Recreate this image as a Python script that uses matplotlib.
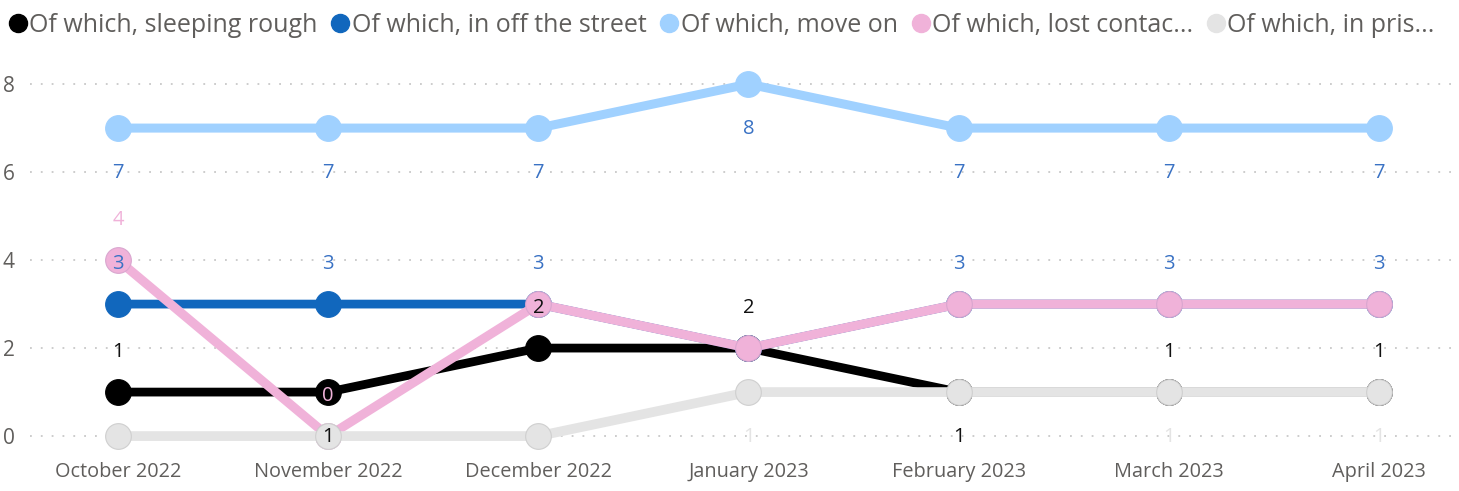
import matplotlib.pyplot as plt
from matplotlib.lines import Line2D

plt.rcParams['font.family'] = ['Open Sans', 'DejaVu Sans']

months = ['October 2022', 'November 2022', 'December 2022', 'January 2023',
          'February 2023', 'March 2023', 'April 2023']
series_names = ['Of which, sleeping rough', 'Of which, in off the street',
                'Of which, move on', 'Of which, lost contac...', 'Of which, in pris...']

sleeping_rough = [1, 1, 2, 2, 1, 1, 1]
off_the_street = [3, 3, 3, 2, 3, 3, 3]
move_on = [7, 7, 7, 8, 7, 7, 7]
lost_contact = [4, 0, 3, 2, 3, 3, 3]
in_prison = [0, 0, 0, 1, 1, 1, 1]

# label placement: 'a' above, 'b' below, None hidden (as in the report)
lab_sleeping = ['a', 'b', 'a', 'a', 'b', 'a', 'a']
lab_street = ['a', 'a', 'a', None, 'a', 'a', 'a']
lab_move = ['b'] * 7
lab_lost = ['a', 'a', None, None, None, None, None]
lab_prison = [None, None, None, 'b', None, 'b', 'b']

colors = ['#000000', '#1167BD', '#A0D1FF', '#F0B2D9', '#E4E4E4']
edge_colors = ['#000000', '#1167BD', '#A0D1FF', '#D9A6CF', '#CFCFCF']
label_colors = ['#111111', '#3A72C4', '#3A72C4', '#F0B2D9', '#E4E4E4']
line_widths = [6.3, 6.3, 6.5, 6.6, 7.0]

data = [sleeping_rough, off_the_street, move_on, lost_contact, in_prison]
labels = [lab_sleeping, lab_street, lab_move, lab_lost, lab_prison]

fig = plt.figure(figsize=(14.59, 4.91), dpi=100)
ax = fig.add_axes([30 / 1459, 36 / 491, 1 - 30 / 1459, 385 / 491])

x = list(range(len(months)))
for i, (vals, col) in enumerate(zip(data, colors)):
    ax.plot(x, vals, color=col, lw=line_widths[i], marker='o', ms=18.5, mfc=col,
            mec=edge_colors[i], mew=0.8, zorder=3 + i, solid_joinstyle='miter')

for i, (vals, labs) in enumerate(zip(data, labels)):
    for xi, v, pos in zip(x, vals, labs):
        if pos is None:
            continue
        dy = 29 if pos == 'a' else -32
        ax.annotate(str(v), (xi, v), xytext=(0, dy), textcoords='offset points',
                    ha='center', va='center', fontsize=14.5, color=label_colors[i],
                    zorder=20)

ax.set_xlim(-0.419, 6.381)
ax.set_ylim(-0.43, 8.32)
ax.set_yticks([0, 2, 4, 6, 8])
ax.set_xticks(x)
ax.set_xticklabels(months)
ax.tick_params(axis='both', length=0, colors='#605E5C', labelsize=14.3)
ax.tick_params(axis='y', pad=11, labelsize=15)
ax.tick_params(axis='x', pad=5)
ax.grid(axis='y', color='#C8C8C8', lw=1.3, linestyle=(0, (1, 5)))
ax.set_axisbelow(True)
for s in ax.spines.values():
    s.set_visible(False)

handles = [Line2D([], [], ls='none', marker='o', ms=13, mfc=c, mec=c) for c in colors]
fig.legend(handles, series_names, loc='upper left', bbox_to_anchor=(0.001, 0.992),
           ncol=5, frameon=False, fontsize=18, labelcolor='#605E5C',
           handlelength=0.6, handletextpad=0.15, columnspacing=0.62,
           borderaxespad=0.1, borderpad=0.25)

fig.savefig('out.png', dpi=100)
